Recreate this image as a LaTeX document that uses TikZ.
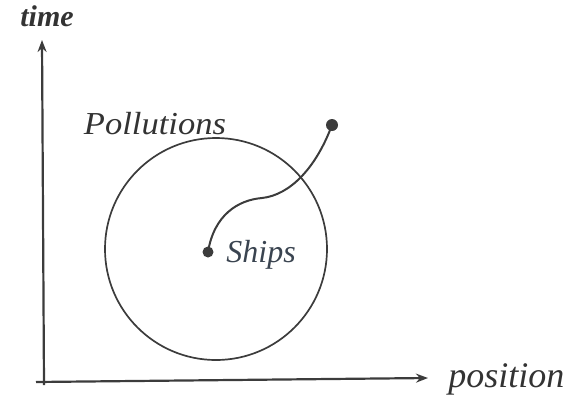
\documentclass[tikz,border=0pt]{standalone}
\usepackage{fontspec}
\setmainfont{Liberation Serif}
\usetikzlibrary{arrows.meta}
\definecolor{ink}{HTML}{3C3C3C}
\definecolor{txt}{HTML}{333333}
\definecolor{shiptxt}{HTML}{3A4450}
\tikzset{
  axis/.style={draw=ink, line width=1.1pt, -{Stealth[length=6pt,width=4.5pt]}},
  lbl/.style={inner sep=0pt, font=\fontsize{16}{18}\selectfont\itshape, text=txt},
  dotpt/.style={circle, fill=ink, inner sep=0pt, minimum size=5pt},
}
\begin{document}
\begin{tikzpicture}[x=0.5pt,y=-0.5pt]
\useasboundingbox (0,0) rectangle (563,398);
% axes
\coordinate (Ytip) at (42,40);
\coordinate (Xtip) at (428,378);
\coordinate (Ystart) at (44,385);
\coordinate (Xstart) at (36,382);
\draw[axis] (Ystart) -- (Ytip);
\draw[axis] (Xstart) -- (Xtip);
\node[lbl, font=\fontsize{15}{18}\selectfont\bfseries\itshape] (time) at (47,16) {time};
\node[lbl, anchor=west, font=\fontsize{18}{20}\selectfont\itshape] (position) at (448,379) {position};
% circle
\node[circle, draw=ink, line width=0.85pt, minimum size=111pt, inner sep=0pt] (poll) at (216,249) {};
\node[lbl, xscale=1.08, transform shape] (polltext) at (155,124) {Pollutions};
% ships
\node[dotpt, minimum size=5.5pt] (s) at (208,252) {};
\node[dotpt, minimum size=6pt] (e) at (332,125) {};
\node[lbl, text=shiptxt, anchor=west] (ships) at (226,255) {Ships};
\draw[ink, line width=1pt] (s.center) .. controls (214,215) and (238,200) .. (262,198)
  .. controls (290,195) and (316,168) .. (e.center);
\end{tikzpicture}
\end{document}
